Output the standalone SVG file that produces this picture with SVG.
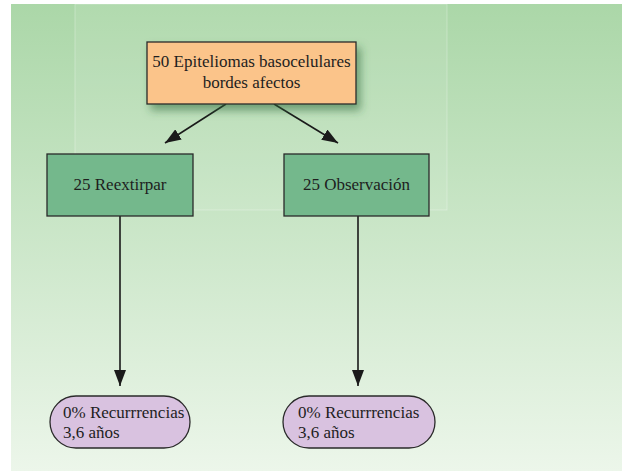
<svg xmlns="http://www.w3.org/2000/svg" width="622" height="471" viewBox="0 0 622 471">
<defs>
<linearGradient id="bg" x1="0" y1="0" x2="0" y2="1">
<stop offset="0" stop-color="#abd7a8"/>
<stop offset="1" stop-color="#ecf6ea"/>
</linearGradient>
<filter id="sh" x="-20%" y="-20%" width="150%" height="160%">
<feGaussianBlur in="SourceAlpha" stdDeviation="4"/>
<feOffset dx="4" dy="6" result="b"/>
<feFlood flood-color="#2f6a3a" flood-opacity="0.55"/>
<feComposite in2="b" operator="in"/>
<feMerge><feMergeNode/><feMergeNode in="SourceGraphic"/></feMerge>
</filter>
<marker id="ahl" viewBox="0 0 16 12" refX="16" refY="6" markerWidth="16" markerHeight="12" markerUnits="userSpaceOnUse" orient="auto">
<path d="M0,0 L16,6 L0,12 z" fill="#1a1a1a"/>
</marker>
</defs>
<style>
.t{font-family:'Liberation Serif','DejaVu Serif','Times New Roman',serif;font-size:17px;fill:#1e1e1e}
.box{stroke:#2a2a2a;stroke-width:1.3}
.c{stroke:#1a1a1a;stroke-width:1.6;fill:none}
</style>
<rect x="11" y="4" width="611" height="467" fill="url(#bg)"/>
<rect x="75" y="4" width="372" height="206" fill="#ffffff" fill-opacity="0.08" stroke="#ffffff" stroke-opacity="0.35" stroke-width="0.8"/>
<g id="connectors">
<line class="c" x1="226" y1="104" x2="165" y2="143" marker-end="url(#ahl)"/>
<line class="c" x1="274" y1="104" x2="338" y2="143" marker-end="url(#ahl)"/>
<line class="c" x1="120" y1="216" x2="120" y2="386" marker-end="url(#ahl)"/>
<line class="c" x1="358" y1="216" x2="358" y2="386" marker-end="url(#ahl)"/>
</g>
<g id="n_top">
<rect class="box" x="147" y="42" width="209" height="62" fill="#fbc48a" filter="url(#sh)"/>
<text class="t" x="251.5" y="67" text-anchor="middle">50 Epiteliomas basocelulares</text>
<text class="t" x="251.5" y="88" text-anchor="middle">bordes afectos</text>
</g>
<g id="n_reextirpar">
<rect class="box" x="47" y="154" width="146" height="62" fill="#74b88c"/>
<text class="t" x="120" y="190" text-anchor="middle">25 Reextirpar</text>
</g>
<g id="n_observacion">
<rect class="box" x="284" y="154" width="145" height="62" fill="#74b88c"/>
<text class="t" x="356.5" y="190" text-anchor="middle">25 Observación</text>
</g>
<g id="n_rec_left">
<rect class="box" x="50" y="396" width="140" height="52" rx="26" ry="26" fill="#d9c2e0"/>
<text class="t" x="63" y="418">0% Recurrrencias</text>
<text class="t" x="63" y="438">3,6 años</text>
</g>
<g id="n_rec_right">
<rect class="box" x="283" y="396" width="152" height="52" rx="26" ry="26" fill="#d9c2e0"/>
<text class="t" x="298" y="418">0% Recurrrencias</text>
<text class="t" x="298" y="438">3,6 años</text>
</g>
</svg>
